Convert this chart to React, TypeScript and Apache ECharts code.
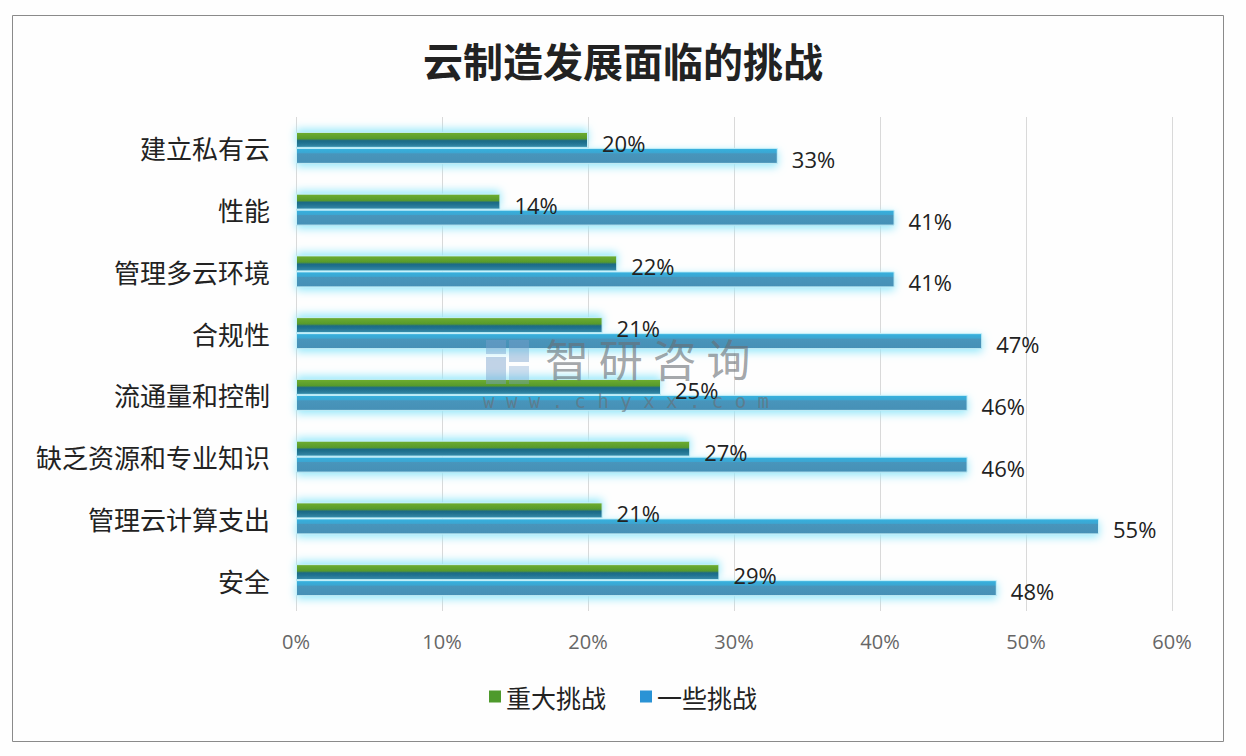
import React, { useEffect, useRef } from "react";
import * as echarts from "echarts";

const categories = ["建立私有云", "性能", "管理多云环境", "合规性", "流通量和控制", "缺乏资源和专业知识", "管理云计算支出", "安全"];
const majorChallenge = [20, 14, 22, 21, 25, 27, 21, 29];
const someChallenge = [33, 41, 41, 47, 46, 46, 55, 48];
const seriesNames = ["重大挑战", "一些挑战"];
const xTicks = [0, 10, 20, 30, 40, 50, 60];

export default function App() {
  const ref = useRef<HTMLDivElement>(null);
  useEffect(() => {
    const chart = echarts.init(ref.current!, undefined, { renderer: "svg" });
    const labelStyle = {
      show: true,
      position: "right",
      distance: 14,
      formatter: "{c}%",
      fontSize: 22,
      color: "#222",
      fontFamily: "Open Sans, Noto Sans, sans-serif",
      offset: [0, 3],
    };
    const wm = "rgba(105,110,115,0.62)";
    chart.setOption({
      animation: false,
      backgroundColor: "#fefefe",
      title: {
        text: "云制造发展面临的挑战",
        left: "center",
        top: 35,
        textStyle: { fontSize: 40, fontWeight: "bold", color: "#222", fontFamily: "Noto Sans CJK SC" },
      },
      legend: {
        bottom: 42,
        left: "center",
        itemWidth: 12,
        itemHeight: 12,
        itemGap: 34,
        icon: "rect",
        textStyle: { fontSize: 25, color: "#222", fontFamily: "Noto Sans CJK SC" },
        data: [
          { name: seriesNames[0], itemStyle: { color: "#4e9a2c", borderWidth: 0, shadowBlur: 0 } },
          { name: seriesNames[1], itemStyle: { color: "#2a93d5", borderWidth: 0, shadowBlur: 0 } },
        ],
      },
      grid: { left: 296, right: 74, top: 117, bottom: 145 },
      xAxis: {
        type: "value",
        min: xTicks[0],
        max: xTicks[xTicks.length - 1],
        interval: 10,
        axisLabel: { formatter: "{value}%", fontSize: 20, color: "#666", margin: 20, fontFamily: "Open Sans, Noto Sans, sans-serif" },
        axisLine: { show: false },
        axisTick: { show: false },
        splitLine: { show: true, lineStyle: { color: "#d9d9d9", width: 1 } },
      },
      yAxis: {
        type: "category",
        data: categories,
        inverse: true,
        axisLine: { show: false },
        axisTick: { show: false },
        axisLabel: { fontSize: 26, color: "#222", margin: 26, fontFamily: "Noto Sans CJK SC" },
      },
      series: [
        {
          name: seriesNames[0],
          type: "bar",
          data: majorChallenge,
          barWidth: 16,
          barGap: "0%",
          itemStyle: {
            color: new echarts.graphic.LinearGradient(0, 0, 0, 1, [
              { offset: 0, color: "#6fae2f" },
              { offset: 0.42, color: "#579a2c" },
              { offset: 0.55, color: "#1d6a86" },
              { offset: 1, color: "#237a9c" },
            ]),
            borderColor: "#c6f0f9",
            borderWidth: 1,
            shadowBlur: 9,
            shadowOffsetY: -3,
            shadowColor: "rgba(150,232,250,1)",
          },
          label: labelStyle,
        },
        {
          name: seriesNames[1],
          type: "bar",
          data: someChallenge,
          barWidth: 16,
          itemStyle: {
            color: new echarts.graphic.LinearGradient(0, 0, 0, 1, [
              { offset: 0, color: "#36b2df" },
              { offset: 0.3, color: "#3ba6d2" },
              { offset: 0.36, color: "#4895bb" },
              { offset: 1, color: "#4590b6" },
            ]),
            borderColor: "#c6f0f9",
            borderWidth: 1,
            shadowBlur: 9,
            shadowOffsetY: 3,
            shadowColor: "rgba(150,232,250,1)",
          },
          label: labelStyle,
        },
      ],
      graphic: [
        {
          type: "rect",
          shape: { x: 12.5, y: 15.5, width: 1211, height: 726 },
          style: { fill: "none", stroke: "#8a8a8a", lineWidth: 1 },
          z: 0,
          silent: true,
        },
        { type: "rect", z: 100, shape: { x: 486, y: 340, width: 20, height: 14 }, style: { fill: "rgba(120,160,205,0.45)" } },
        { type: "rect", z: 100, shape: { x: 509, y: 340, width: 20, height: 22 }, style: { fill: "rgba(120,160,205,0.45)" } },
        { type: "rect", z: 100, shape: { x: 486, y: 357, width: 20, height: 27 }, style: { fill: "rgba(120,160,205,0.45)" } },
        { type: "rect", z: 100, shape: { x: 509, y: 366, width: 20, height: 18 }, style: { fill: "rgba(120,160,205,0.35)" } },
        {
          type: "text",
          z: 100,
          x: 545,
          y: 336,
          style: { text: "智 研 咨 询", fontSize: 44, fill: wm, fontFamily: "Noto Sans CJK SC" },
        },
        {
          type: "text",
          z: 100,
          x: 483,
          y: 391,
          style: { text: "w w w . c h y x x . c o m", fontSize: 19, fill: wm, fontFamily: "DejaVu Sans Mono" },
        },
      ],
    });
    return () => chart.dispose();
  }, []);
  return <div ref={ref} style={{ position: "fixed", left: 0, top: 0, width: 1246, height: 756 }} />;
}
